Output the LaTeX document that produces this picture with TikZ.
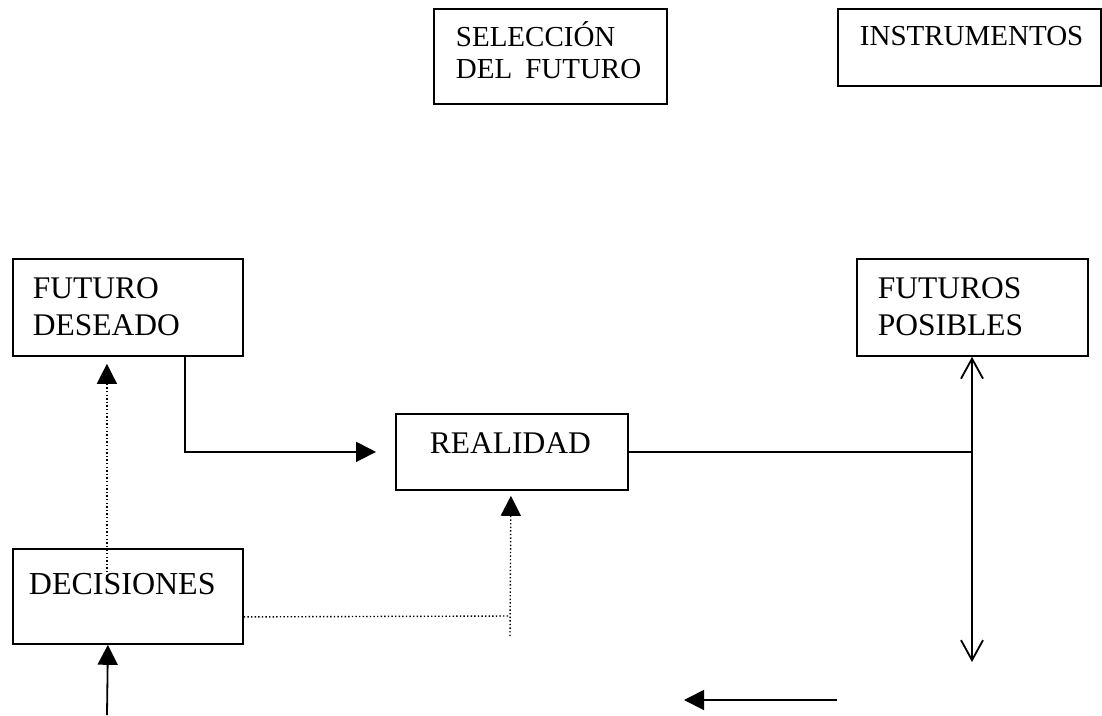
\documentclass[tikz,border=0pt]{standalone}
\usepackage{fontspec}
\setmainfont{Liberation Serif}
\usetikzlibrary{arrows.meta}
\begin{document}
\begin{tikzpicture}[x=1pt,y=-1pt,
  box/.style={draw, line width=1.8pt, inner ysep=0pt, align=left, anchor=north west,
    font=\fontsize{31.5}{37}\selectfont},
  topbox/.style={box, font=\fontsize{29}{32}\selectfont},
  link/.style={line width=1.8pt},
  arr/.style={link, -{Triangle[length=20pt,width=20pt]}},
  barbs/.style={link, {Straight Barb[length=20pt,width=22pt]}-{Straight Barb[length=20pt,width=22pt]}},
  dots/.style={line width=1.4pt, dash pattern=on 1.4pt off 2.2pt}]
\useasboundingbox (0,0) rectangle (1102,715);

% boxes
\node[topbox, text width=189pt, inner xsep=22pt, text height=38pt, text depth=57pt]
  (sel) at (433,8) {\mbox{SELECCIÓN}\\\mbox{DEL\hspace{13pt}FUTURO}};
\node[topbox, text width=219pt, inner xsep=22pt, text height=37pt, text depth=40pt]
  (ins) at (837,8) {\mbox{INSTRUMENTOS}};
\node[box, text width=190pt, inner xsep=20pt, text height=40pt, text depth=57pt]
  (fd) at (12,258) {FUTURO\\DESEADO};
\node[box, text width=189pt, inner xsep=21pt, text height=40pt, text depth=57pt]
  (fp) at (856,258) {FUTUROS\\POSIBLES};
\node[box, text width=164pt, inner xsep=34pt, text height=40pt, text depth=36pt]
  (re) at (395,413) {REALIDAD};
\node[box, font=\fontsize{32}{37}\selectfont, text width=198pt, inner xsep=16pt,
  text height=46pt, text depth=49pt] (dc) at (12,548) {DECISIONES};

% free ends
\coordinate (pd) at (972,662);
\coordinate (jn) at (510,616);
\coordinate (jd) at (510,636);
\coordinate (bl) at (107,715);
\coordinate (ba) at (837,700);
\coordinate (bb) at (684,700);

% connectors
\draw[arr] ([xshift=57pt]fd.south) |- ([xshift=-19pt]re.west);
\draw[link] (re.east) -- (re.east -| pd);
\draw[barbs] (fp.south -| pd) -- (pd);
\draw[dots, -{Triangle[length=20pt,width=20pt]}]
  ([xshift=-21pt,yshift=-28pt]dc.north) -- ([xshift=-21pt,yshift=-7pt]fd.south);
\draw[dots] ([yshift=-20.5pt]dc.east) -- (jn);
\draw[dots, -{Triangle[length=20pt,width=20pt]}] (jd) -- ([xshift=-1pt,yshift=-5pt]re.south);
\draw[arr] (bl) -- ([xshift=-20pt]dc.south);
\draw[arr] (ba) -- (bb);
\end{tikzpicture}
\end{document}
